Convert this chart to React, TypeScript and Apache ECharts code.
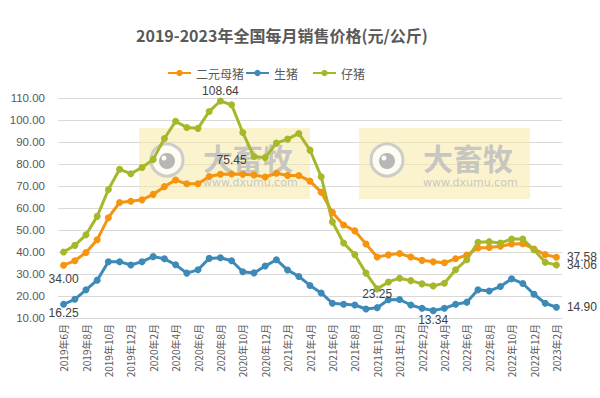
import React, { useEffect, useRef } from "react";
import * as echarts from "echarts";

const categories = [
  "2019年6月", "2019年7月", "2019年8月", "2019年9月", "2019年10月", "2019年11月", "2019年12月",
  "2020年1月", "2020年2月", "2020年3月", "2020年4月", "2020年5月", "2020年6月", "2020年7月",
  "2020年8月", "2020年9月", "2020年10月", "2020年11月", "2020年12月",
  "2021年1月", "2021年2月", "2021年3月", "2021年4月", "2021年5月", "2021年6月", "2021年7月",
  "2021年8月", "2021年9月", "2021年10月", "2021年11月", "2021年12月",
  "2022年1月", "2022年2月", "2022年3月", "2022年4月", "2022年5月", "2022年6月", "2022年7月",
  "2022年8月", "2022年9月", "2022年10月", "2022年11月", "2022年12月",
  "2023年1月", "2023年2月",
];

const sowPrices = [
  34.0, 36.0, 39.8, 45.6, 55.6, 62.5, 63.1, 63.7, 66.2, 69.7, 72.7, 71.0, 71.0, 74.3, 75.3,
  75.45, 75.3, 75.0, 74.1, 75.8, 74.8, 74.8, 72.2, 67.2, 58.0, 52.3, 49.6, 43.6, 37.7, 38.7,
  39.3, 37.7, 36.2, 35.6, 35.1, 36.9, 38.6, 41.8, 42.1, 42.6, 43.6, 43.8, 41.4, 38.8, 37.58,
];

const hogPrices = [
  16.25, 18.5, 22.8, 27.2, 35.6, 35.6, 34.1, 35.6, 37.9, 36.9, 34.2, 30.4, 31.9, 37.1, 37.4,
  36.0, 31.0, 30.5, 33.6, 36.5, 31.8, 28.9, 24.8, 21.4, 16.7, 16.25, 15.9, 14.1, 14.7, 18.3,
  18.4, 15.9, 14.4, 13.34, 14.4, 16.25, 17.2, 22.8, 22.3, 24.3, 27.8, 25.7, 20.8, 16.7, 14.9,
];

const pigletPrices = [
  40.0, 43.0, 47.8, 56.2, 68.4, 77.6, 75.6, 78.4, 82.1, 91.6, 99.4, 96.6, 96.2, 103.9, 108.64,
  106.9, 94.3, 83.4, 82.9, 89.5, 91.3, 93.9, 86.3, 74.2, 53.7, 44.1, 38.8, 30.4, 23.25, 26.4,
  28.1, 27.0, 25.5, 24.6, 25.8, 31.9, 36.5, 44.4, 44.7, 44.1, 45.9, 45.9, 41.0, 35.3, 34.06,
];

const seriesNames = ["二元母猪", "生猪", "仔猪"];
const seriesColors = ["#F5940F", "#3D8AB8", "#A6B82A"];

// indices of points that carry a value label: [placement, gap]
const sowLabelled: Record<number, [string, number]> = { 0: ["bottom", 4], 15: ["top", 5], 44: ["right", 7] };
const hogLabelled: Record<number, [string, number]> = { 0: ["bottom", -1], 33: ["bottom", 0], 44: ["right", 7] };
const pigletLabelled: Record<number, [string, number]> = { 14: ["top", 0], 28: ["bottom", -4], 44: ["right", 7] };

const FONT = "'Noto Sans CJK SC', 'Noto Sans', sans-serif";

function buildData(values: number[], labelled: Record<number, [string, number]>) {
  return values.map((v, i) => {
    const cfg = labelled[i];
    if (!cfg) return v;
    return {
      value: v,
      label: {
        show: true,
        position: cfg[0],
        distance: cfg[1],
        formatter: (p: any) => Number(p.value).toFixed(2),
        color: "#404040",
        fontSize: 12,
        fontFamily: "'Liberation Sans', sans-serif",
      },
    };
  });
}

function watermark(x: number, y: number) {
  return {
    type: "group",
    x,
    y,
    z: 1,
    children: [
      {
        type: "rect",
        shape: { x: 0, y: 0, width: 171, height: 71 },
        style: { fill: "rgba(245, 234, 165, 0.55)" },
        z: 1,
      },
      {
        type: "circle",
        shape: { cx: 28, cy: 32, r: 16 },
        style: { fill: "rgba(255,255,255,0.75)", stroke: "rgba(200,200,200,0.9)", lineWidth: 3 },
        z: 1,
      },
      {
        type: "circle",
        shape: { cx: 28, cy: 33, r: 8 },
        style: { fill: "rgba(175,175,175,0.9)" },
        z: 1,
      },
      {
        type: "circle",
        shape: { cx: 25, cy: 30, r: 2.5 },
        style: { fill: "rgba(255,255,255,0.95)" },
        z: 1,
      },
      {
        type: "text",
        x: 64,
        y: 14,
        style: {
          text: "大畜牧",
          fill: "rgba(190,190,190,0.85)",
          font: `bold 30px ${FONT}`,
        },
        z: 1,
      },
      {
        type: "text",
        x: 64,
        y: 49,
        style: {
          text: "www.dxumu.com",
          fill: "rgba(190,190,190,0.85)",
          font: `11px 'DejaVu Sans', sans-serif`,
        },
        z: 1,
      },
    ],
  };
}

const legendLefts = [162, 240, 307];

export default function App() {
  const ref = useRef<HTMLDivElement>(null);

  useEffect(() => {
    document.body.style.margin = "0";
    if (!ref.current) return;
    const chart = echarts.init(ref.current, undefined, { renderer: "svg" });
    const valueSets = [
      buildData(sowPrices, sowLabelled),
      buildData(hogPrices, hogLabelled),
      buildData(pigletPrices, pigletLabelled),
    ];
    chart.setOption({
      animation: false,
      backgroundColor: "#ffffff",
      title: {
        text: "2019-2023年全国每月销售价格(元/公斤)",
        left: 131,
        top: 22,
        textStyle: { color: "#595959", fontSize: 16, fontWeight: "bold", fontFamily: FONT },
      },
      legend: seriesNames.map((name, k) => ({
        data: [name],
        left: legendLefts[k],
        top: 62,
        itemWidth: 23,
        itemHeight: 8,
        itemGap: 4,
        textStyle: { color: "#595959", fontSize: 12, fontFamily: FONT },
      })),
      grid: { left: 58, right: 38, top: 98, bottom: 80, containLabel: false },
      xAxis: {
        type: "category",
        data: categories,
        boundaryGap: true,
        axisLine: { show: true, lineStyle: { color: "#d9d9d9" } },
        axisTick: { show: false },
        axisLabel: {
          interval: 1,
          rotate: 90,
          color: "#595959",
          fontSize: 10,
          fontFamily: FONT,
          margin: 6,
        },
      },
      yAxis: {
        type: "value",
        min: 10,
        max: 110,
        interval: 10,
        axisLine: { show: false },
        axisTick: { show: false },
        splitLine: { lineStyle: { color: "#d9d9d9" } },
        axisLabel: {
          color: "#595959",
          fontSize: 11.5,
          fontFamily: "'Liberation Sans', sans-serif",
          margin: 13,
          formatter: (v: number) => v.toFixed(2),
        },
      },
      graphic: [watermark(139, 128), watermark(359, 128)],
      series: seriesNames.map((name, k) => ({
        name,
        type: "line",
        data: valueSets[k],
        symbol: "circle",
        symbolSize: 7,
        lineStyle: { width: 3, color: seriesColors[k] },
        itemStyle: { color: seriesColors[k] },
        z: 3,
      })),
    });
    return () => chart.dispose();
  }, []);

  return <div ref={ref} style={{ width: 600, height: 398 }} />;
}
